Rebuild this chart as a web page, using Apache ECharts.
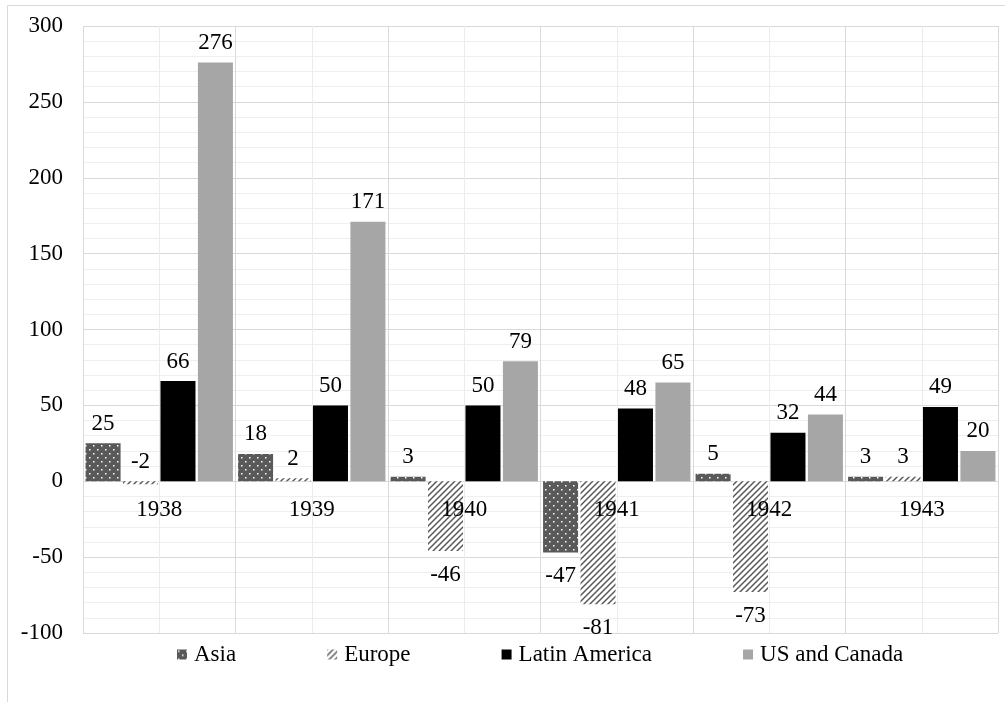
<!DOCTYPE html>
<html>
<head>
<meta charset="utf-8">
<script src="https://cdn.jsdelivr.net/npm/echarts@6/dist/echarts.min.js"></script>
<style>
  html, body { margin: 0; padding: 0; background: #fff; }
  #chart { width: 1005px; height: 702px; }
</style>
</head>
<body>
<div id="chart"></div>
<script>
// Year categories and regional values
const years = ['1938', '1939', '1940', '1941', '1942', '1943'];
const asia = [25, 18, 3, -47, 5, 3];
const europe = [-2, 2, -46, -81, -73, 3];
const latinAmerica = [66, 50, 50, 48, 32, 49];
const usCanada = [276, 171, 79, 65, 44, 20];
const yTicks = { min: -100, max: 300, step: 50 };

const FONT = 'Liberation Serif';
const FS = 23;

// Plot box
const GRID = { left: 83, right: 7, top: 26, bottom: 69 };
const plotH = 702 - GRID.top - GRID.bottom;
// Pixel offset of the zero line above the bottom edge, for placing year labels under it
const zeroFromBottom = plotH * (0 - yTicks.min) / (yTicks.max - yTicks.min);

// Dotted fill: dark gray with small white dots (staggered)
function dotTile() {
  const c = document.createElement('canvas');
  c.width = 8; c.height = 8;
  const g = c.getContext('2d');
  g.fillStyle = '#595959';
  g.fillRect(0, 0, 8, 8);
  g.fillStyle = '#ffffff';
  g.fillRect(1, 1, 1.5, 1.5);
  g.fillRect(5, 5, 1.5, 1.5);
  return c;
}

// Hatched fill: dark diagonal stripes "/" on white
function hatchTile() {
  const s = 6;
  const c = document.createElement('canvas');
  c.width = s; c.height = s;
  const g = c.getContext('2d');
  g.fillStyle = '#ffffff';
  g.fillRect(0, 0, s, s);
  g.strokeStyle = '#595959';
  g.lineWidth = 1.5;
  g.beginPath();
  g.moveTo(-1, s + 1); g.lineTo(s + 1, -1);
  g.moveTo(-1, 1); g.lineTo(1, -1);
  g.moveTo(s - 1, s + 1); g.lineTo(s + 1, s - 1);
  g.stroke();
  return c;
}

// Value labels sit above positive bars and below negative ones
function labelled(values, forceTop) {
  return values.map((v, i) => {
    const top = v >= 0 || (forceTop && forceTop.includes(i));
    return { value: v, label: { position: top ? 'top' : 'bottom', distance: top ? 8 : 12 } };
  });
}

const baseLabel = {
  show: true,
  color: '#000',
  fontFamily: FONT,
  fontSize: FS
};

const chart = echarts.init(document.getElementById('chart'));
chart.setOption({
  animation: false,
  backgroundColor: '#fff',
  graphic: [{
    type: 'rect',
    shape: { x: 7.5, y: 5.5, width: 1010, height: 710 },
    style: { fill: 'none', stroke: '#d9d9d9', lineWidth: 1 },
    silent: true
  }],
  grid: Object.assign({ containLabel: false, outerBoundsMode: 'none' }, GRID),
  legend: {
    left: 177,
    top: 643,
    padding: 0,
    icon: 'rect',
    itemWidth: 10,
    itemHeight: 10,
    itemGap: 91,
    textStyle: { fontFamily: FONT, fontSize: FS, color: '#000', padding: [0, 0, 0, 2] },
    data: ['Asia', 'Europe', 'Latin America', 'US and Canada']
  },
  xAxis: [{
    type: 'category',
    data: years,
    position: 'bottom',
    z: 5,
    axisLine: { show: false, onZero: false },
    axisTick: { show: false },
    axisLabel: {
      fontFamily: FONT, fontSize: FS, color: '#000',
      margin: 17 - zeroFromBottom
    },
    splitLine: { show: false }
  }, {
    // half-category vertical gridlines
    type: 'value',
    min: 0, max: 12, interval: 1,
    position: 'top',
    axisLine: { show: false, onZero: false },
    axisTick: { show: false },
    axisLabel: { show: false },
    splitLine: { show: true, lineStyle: { color: ['#d9d9d9', '#ececec'], width: 1 } }
  }],
  yAxis: {
    type: 'value',
    min: yTicks.min,
    max: yTicks.max,
    interval: yTicks.step,
    axisLine: { show: false, onZero: false },
    axisTick: { show: false },
    axisLabel: { fontFamily: FONT, fontSize: FS, color: '#000', margin: 20 },
    splitLine: { lineStyle: { color: '#d9d9d9', width: 1 } },
    minorTick: { show: false, splitNumber: 5 },
    minorSplitLine: { show: true, lineStyle: { color: '#efefef', width: 1 } }
  },
  series: [{
    name: 'Asia',
    type: 'bar',
    xAxisIndex: 0,
    barWidth: 35,
    barGap: '7%',
    data: labelled(asia),
    label: baseLabel,
    itemStyle: { color: { image: dotTile(), repeat: 'repeat' } }
  }, {
    name: 'Europe',
    type: 'bar',
    xAxisIndex: 0,
    barWidth: 35,
    barGap: '7%',
    data: labelled(europe, [0]),
    label: baseLabel,
    itemStyle: { color: { image: hatchTile(), repeat: 'repeat' } }
  }, {
    name: 'Latin America',
    type: 'bar',
    xAxisIndex: 0,
    barWidth: 35,
    barGap: '7%',
    data: labelled(latinAmerica),
    label: baseLabel,
    itemStyle: { color: '#000000' }
  }, {
    name: 'US and Canada',
    type: 'bar',
    xAxisIndex: 0,
    barWidth: 35,
    barGap: '7%',
    data: labelled(usCanada),
    label: baseLabel,
    itemStyle: { color: '#a6a6a6' }
  }]
});
</script>
</body>
</html>
